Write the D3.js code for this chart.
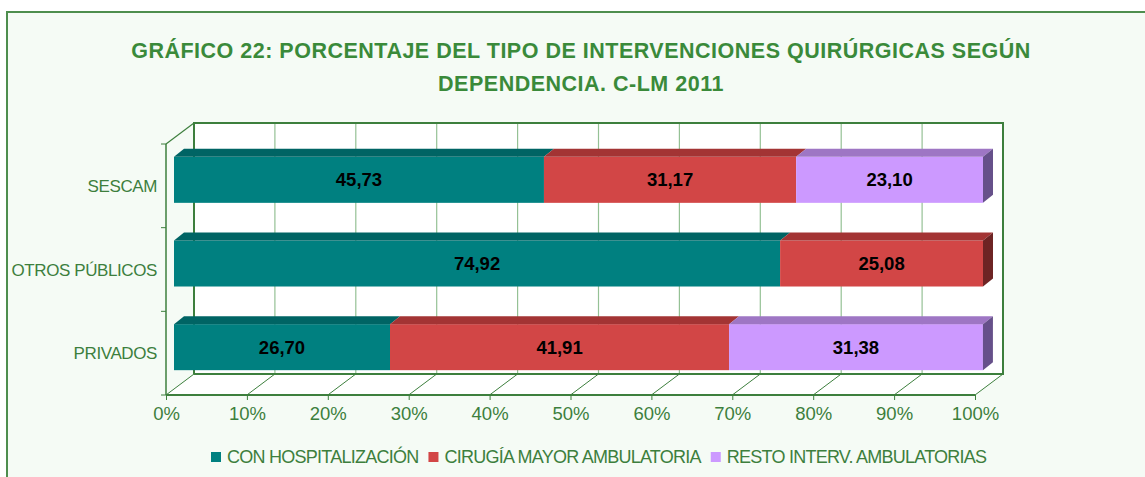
<!DOCTYPE html>
<html>
<head>
<meta charset="utf-8">
<script src="https://cdn.jsdelivr.net/npm/d3@7"></script>
<style>
  body { margin: 0; background: #ffffff; }
  svg { display: block; font-family: "Liberation Sans", Arial, sans-serif; }
</style>
</head>
<body>
<script>
// data
const categories = ["SESCAM", "OTROS PÚBLICOS", "PRIVADOS"];
const seriesNames = ["CON HOSPITALIZACIÓN", "CIRUGÍA MAYOR AMBULATORIA", "RESTO INTERV. AMBULATORIAS"];
const conHospitalizacion = [45.73, 74.92, 26.70];
const cirugiaMayor = [31.17, 25.08, 41.91];
const restoInterv = [23.10, 0, 31.38];
const tickValues = [0, 10, 20, 30, 40, 50, 60, 70, 80, 90, 100];
const titleLines = ["GRÁFICO 22: PORCENTAJE DEL TIPO DE INTERVENCIONES QUIRÚRGICAS SEGÚN", "DEPENDENCIA. C-LM 2011"];

const W = 1145, H = 477;
const green = "#3d7f3d", gridGreen = "#95c195", titleGreen = "#3a8a3a";
const colors = [
  {front: "#008080", top: "#006464", side: "#004c4c"},
  {front: "#d24646", top: "#a33434", side: "#6e2424"},
  {front: "#cc99ff", top: "#9e76c4", side: "#66508a"}
];

const svg = d3.select("body").append("svg")
  .attr("width", W).attr("height", H);

svg.append("rect")
  .attr("x", 7).attr("y", 12).attr("width", W + 20).attr("height", H + 20)
  .attr("fill", "#f5fbf5").attr("stroke", "#4e8e4e").attr("stroke-width", 2);

// title
svg.append("g").selectAll("text").data(titleLines).join("text")
  .attr("x", 581).attr("y", (d, i) => 58 + i * 33)
  .attr("text-anchor", "middle")
  .attr("font-size", 21.5).attr("font-weight", "bold")
  .attr("letter-spacing", 0.5)
  .attr("fill", titleGreen)
  .text(d => d);

// 3d geometry
const x = d3.scaleLinear().domain([0, 100]).range([166, 975]);
const y = d3.scaleBand().domain(categories).range([144, 395]).paddingInner(0.45).paddingOuter(0.225);
const depth = [28, -21];      // front plane -> back wall
const barOff = [8, -6];       // front plane -> bar front face
const barDepth = [10, -8];    // bar thickness
const yTop = 144, yBottom = 395;

// back wall
const g = svg.append("g");
g.append("rect")
  .attr("x", x(0) + depth[0]).attr("y", yTop + depth[1])
  .attr("width", x(100) - x(0)).attr("height", yBottom - yTop)
  .attr("fill", "#ffffff");
// floor
g.append("path")
  .attr("d", `M${x(0)},${yBottom}L${x(100)},${yBottom}L${x(100) + depth[0]},${yBottom + depth[1]}L${x(0) + depth[0]},${yBottom + depth[1]}Z`)
  .attr("fill", "#ffffff");

// back gridlines
g.selectAll(".grid").data(tickValues.slice(1, -1)).join("line")
  .attr("x1", d => x(d) + depth[0]).attr("x2", d => x(d) + depth[0])
  .attr("y1", yTop + depth[1]).attr("y2", yBottom + depth[1])
  .attr("stroke", gridGreen).attr("stroke-width", 1.2);
// floor diagonals
g.selectAll(".diag").data(tickValues).join("line")
  .attr("x1", d => x(d)).attr("y1", yBottom)
  .attr("x2", d => x(d) + depth[0]).attr("y2", yBottom + depth[1])
  .attr("stroke", green).attr("stroke-width", 1);
// wall outline
g.append("path")
  .attr("d", `M${x(0) + depth[0]},${yBottom + depth[1]}V${yTop + depth[1]}H${x(100) + depth[0]}V${yBottom + depth[1]}H${x(0) + depth[0]}`)
  .attr("fill", "none").attr("stroke", green).attr("stroke-width", 2);
// left wall top diagonal
g.append("line")
  .attr("x1", x(0)).attr("y1", yTop)
  .attr("x2", x(0) + depth[0]).attr("y2", yTop + depth[1])
  .attr("stroke", green).attr("stroke-width", 1.2);

// axes
g.append("line").attr("x1", x(0)).attr("x2", x(0)).attr("y1", yTop).attr("y2", yBottom)
  .attr("stroke", green).attr("stroke-width", 1.5);
g.append("line").attr("x1", x(0)).attr("x2", x(100)).attr("y1", yBottom).attr("y2", yBottom)
  .attr("stroke", green).attr("stroke-width", 2);

const xAxis = d3.axisBottom(x).tickValues(tickValues).tickSize(5).tickPadding(7).tickFormat(d => d + "%");
const ax = svg.append("g").attr("transform", `translate(0,${yBottom})`).call(xAxis);
ax.select(".domain").remove();
ax.selectAll("line").attr("stroke", green);
ax.selectAll("text").attr("font-size", 18.5).attr("fill", green).attr("font-family", "Liberation Sans, Arial, sans-serif");

const yBounds = d3.scaleBand().domain(categories).range([yTop, yBottom]);
svg.append("g").selectAll("line").data([0, 1, 2, 3]).join("line")
  .attr("x1", x(0) - 5).attr("x2", x(0))
  .attr("y1", i => yTop + i * yBounds.step()).attr("y2", i => yTop + i * yBounds.step())
  .attr("stroke", green);
svg.append("g").selectAll("text").data(categories).join("text")
  .attr("x", x(0) - 9)
  .attr("y", d => yBounds(d) + yBounds.bandwidth() / 2)
  .attr("dy", "0.36em")
  .attr("text-anchor", "end")
  .attr("font-size", 17).attr("fill", green)
  .attr("letter-spacing", -0.4)
  .text(d => d);

// stacked bars
const rows = categories.map((c, i) => ({cat: c, vals: [conHospitalizacion[i], cirugiaMayor[i], restoInterv[i]]}));
const segs = [];
rows.forEach(r => {
  let acc = 0;
  r.vals.forEach((v, s) => {
    if (v > 0) segs.push({cat: r.cat, s, v, x0: acc, x1: acc + v});
    acc += v;
  });
});

const bx = v => x(v) + barOff[0];
const by = c => y(c) + barOff[1];
const bars = svg.append("g");
segs.forEach(d => {
  const x0 = bx(d.x0), x1 = bx(d.x1), t = by(d.cat), b = t + y.bandwidth();
  bars.append("rect").attr("x", x0).attr("y", t).attr("width", x1 - x0).attr("height", b - t)
    .attr("fill", colors[d.s].front);
  bars.append("path")
    .attr("d", `M${x0},${t}L${x1},${t}L${x1 + barDepth[0]},${t + barDepth[1]}L${x0 + barDepth[0]},${t + barDepth[1]}Z`)
    .attr("fill", colors[d.s].top);
});
// right side face of each bar
rows.forEach(r => {
  const last = segs.filter(d => d.cat === r.cat).slice(-1)[0];
  const x1 = bx(last.x1), t = by(r.cat), b = t + y.bandwidth();
  bars.append("path")
    .attr("d", `M${x1},${t}L${x1 + barDepth[0]},${t + barDepth[1]}L${x1 + barDepth[0]},${b + barDepth[1]}L${x1},${b}Z`)
    .attr("fill", colors[last.s].side);
});
// value labels
bars.selectAll("text").data(segs).join("text")
  .attr("x", d => (bx(d.x0) + bx(d.x1)) / 2)
  .attr("y", d => by(d.cat) + y.bandwidth() / 2)
  .attr("dy", "0.36em")
  .attr("text-anchor", "middle")
  .attr("font-size", 18.5).attr("font-weight", "bold").attr("fill", "#000")
  .text(d => d3.format(".2f")(d.v).replace(".", ","));

// legend
const leg = svg.append("g").attr("transform", "translate(211,457)");
let lx = 0;
seriesNames.forEach((n, i) => {
  leg.append("rect").attr("x", lx).attr("y", -5).attr("width", 10).attr("height", 10).attr("fill", colors[i].front);
  const t = leg.append("text").attr("x", lx + 16).attr("dy", "0.36em")
    .attr("font-size", 18).attr("fill", green).attr("letter-spacing", -0.75).text(n);
  lx += 16 + t.node().getComputedTextLength() + 10;
});
</script>
</body>
</html>
